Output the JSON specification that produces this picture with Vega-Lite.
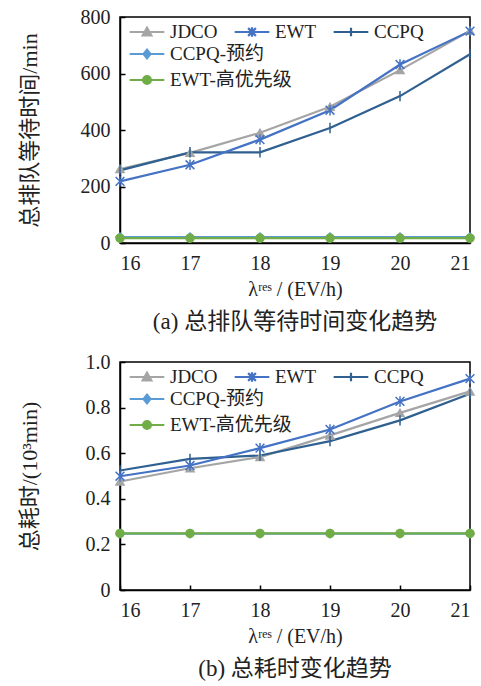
{
  "$schema": "https://vega.github.io/schema/vega-lite/v6.json",
  "padding": {"left": 17, "top": 6, "right": 10, "bottom": 4},
  "spacing": 16,
  "data": {"values": [
    {"p":"a","s":"JDCO","x":16,"v":262},{"p":"a","s":"JDCO","x":17,"v":319},{"p":"a","s":"JDCO","x":18,"v":390},{"p":"a","s":"JDCO","x":19,"v":482},{"p":"a","s":"JDCO","x":20,"v":612},{"p":"a","s":"JDCO","x":21,"v":751},
    {"p":"a","s":"CCPQ-预约","x":16,"v":21},{"p":"a","s":"CCPQ-预约","x":17,"v":21},{"p":"a","s":"CCPQ-预约","x":18,"v":21},{"p":"a","s":"CCPQ-预约","x":19,"v":21},{"p":"a","s":"CCPQ-预约","x":20,"v":21},{"p":"a","s":"CCPQ-预约","x":21,"v":21},
    {"p":"a","s":"CCPQ","x":16,"v":257},{"p":"a","s":"CCPQ","x":17,"v":321},{"p":"a","s":"CCPQ","x":18,"v":321},{"p":"a","s":"CCPQ","x":19,"v":407},{"p":"a","s":"CCPQ","x":20,"v":520},{"p":"a","s":"CCPQ","x":21,"v":668},
    {"p":"a","s":"EWT","x":16,"v":218},{"p":"a","s":"EWT","x":17,"v":277},{"p":"a","s":"EWT","x":18,"v":366},{"p":"a","s":"EWT","x":19,"v":470},{"p":"a","s":"EWT","x":20,"v":632},{"p":"a","s":"EWT","x":21,"v":750},
    {"p":"a","s":"EWT-高优先级","x":16,"v":17},{"p":"a","s":"EWT-高优先级","x":17,"v":17},{"p":"a","s":"EWT-高优先级","x":18,"v":17},{"p":"a","s":"EWT-高优先级","x":19,"v":17},{"p":"a","s":"EWT-高优先级","x":20,"v":17},{"p":"a","s":"EWT-高优先级","x":21,"v":17},
    {"p":"b","s":"JDCO","x":16,"v":0.476},{"p":"b","s":"JDCO","x":17,"v":0.534},{"p":"b","s":"JDCO","x":18,"v":0.583},{"p":"b","s":"JDCO","x":19,"v":0.678},{"p":"b","s":"JDCO","x":20,"v":0.777},{"p":"b","s":"JDCO","x":21,"v":0.871},
    {"p":"b","s":"CCPQ-预约","x":16,"v":0.247},{"p":"b","s":"CCPQ-预约","x":17,"v":0.247},{"p":"b","s":"CCPQ-预约","x":18,"v":0.247},{"p":"b","s":"CCPQ-预约","x":19,"v":0.247},{"p":"b","s":"CCPQ-预约","x":20,"v":0.247},{"p":"b","s":"CCPQ-预约","x":21,"v":0.247},
    {"p":"b","s":"CCPQ","x":16,"v":0.524},{"p":"b","s":"CCPQ","x":17,"v":0.575},{"p":"b","s":"CCPQ","x":18,"v":0.590},{"p":"b","s":"CCPQ","x":19,"v":0.653},{"p":"b","s":"CCPQ","x":20,"v":0.744},{"p":"b","s":"CCPQ","x":21,"v":0.861},
    {"p":"b","s":"EWT","x":16,"v":0.499},{"p":"b","s":"EWT","x":17,"v":0.546},{"p":"b","s":"EWT","x":18,"v":0.622},{"p":"b","s":"EWT","x":19,"v":0.704},{"p":"b","s":"EWT","x":20,"v":0.827},{"p":"b","s":"EWT","x":21,"v":0.927},
    {"p":"b","s":"EWT-高优先级","x":16,"v":0.248},{"p":"b","s":"EWT-高优先级","x":17,"v":0.248},{"p":"b","s":"EWT-高优先级","x":18,"v":0.248},{"p":"b","s":"EWT-高优先级","x":19,"v":0.248},{"p":"b","s":"EWT-高优先级","x":20,"v":0.248},{"p":"b","s":"EWT-高优先级","x":21,"v":0.248}
  ]},
  "vconcat": [
    {
      "width": 350, "height": 226,
      "transform": [{"filter": "datum.p === 'a'"}],
      "title": {"text": "(a)  总排队等待时间变化趋势", "orient": "bottom", "font": "Liberation Serif, Noto Sans CJK SC", "fontSize": 23, "fontWeight": "normal", "color": "#222", "offset": 12},
      "encoding": {
        "x": {"field": "x", "type": "quantitative", "scale": {"domain": [16, 21], "nice": false, "zero": false},
              "axis": {"values": [16,17,18,19,20,21], "format": "d", "title": "λʳᵉˢ / (EV/h)"}},
        "y": {"field": "v", "type": "quantitative", "scale": {"domain": [0, 800], "nice": false},
              "axis": {"values": [0,200,400,600,800], "title": "总排队等待时间/min", "titlePadding": 39}}
      },
      "layer": [
        {"mark": {"type": "line", "strokeWidth": 2.2},
         "encoding": {"color": {"field": "s", "type": "nominal", "legend": null,
            "scale": {"domain": ["JDCO","EWT","CCPQ","CCPQ-预约","EWT-高优先级"], "range": ["#A5A5A5","#4472C4","#2F6090","#5B9BD5","#70AD47"]}}}},
        {"mark": {"type": "point", "filled": true, "size": 64, "strokeWidth": 1.5, "opacity": 1},
         "encoding": {
           "color": {"field": "s", "type": "nominal", "legend": null,
            "scale": {"domain": ["JDCO","EWT","CCPQ","CCPQ-预约","EWT-高优先级"], "range": ["#A5A5A5","#4472C4","#2F6090","#5B9BD5","#70AD47"]}},
           "stroke": {"field": "s", "type": "nominal", "legend": null,
            "scale": {"domain": ["JDCO","EWT","CCPQ","CCPQ-预约","EWT-高优先级"], "range": ["#A5A5A5","#4472C4","#2F6090","#5B9BD5","#70AD47"]}},
           "shape": {"field": "s", "type": "nominal", "legend": null,
            "scale": {"domain": ["JDCO","EWT","CCPQ","CCPQ-预约","EWT-高优先级"], "range": ["triangle-up","M-1.1,-1.1L1.1,1.1M-1.1,1.1L1.1,-1.1M0,-1.3V1.3","M0,-1.3V1.3","diamond","circle"]}}
         }},
        {"transform": [{"filter": "indexof(['JDCO','EWT','CCPQ'], datum.s) >= 0"}],
         "mark": {"type": "point", "filled": true, "opacity": 0, "strokeWidth": 2.2},
         "encoding": {
           "color": {"field": "s", "type": "nominal", "title": null,
             "scale": {"domain": ["JDCO","EWT","CCPQ"], "range": ["#A5A5A5","#4472C4","#2F6090"]},
             "legend": {"orient": "none", "legendX": 17, "legendY": 5, "columns": 3, "gridAlign": "none", "title": null, "symbolSize": 300, "symbolStrokeWidth": 2.2, "symbolOpacity": 1, "labelFont": "Liberation Serif, Noto Sans CJK SC", "labelFontSize": 19, "labelColor": "#222", "labelOffset": 13, "columnPadding": 12, "rowPadding": 4}},
           "stroke": {"field": "s", "type": "nominal", "title": null,
             "scale": {"domain": ["JDCO","EWT","CCPQ"], "range": ["#A5A5A5","#4472C4","#2F6090"]},
             "legend": {"orient": "none", "legendX": 17, "legendY": 5, "columns": 3, "gridAlign": "none", "title": null, "symbolSize": 300, "symbolStrokeWidth": 2.2, "symbolOpacity": 1, "labelFont": "Liberation Serif, Noto Sans CJK SC", "labelFontSize": 19, "labelColor": "#222", "labelOffset": 13, "columnPadding": 12, "rowPadding": 4}},
           "shape": {"field": "s", "type": "nominal", "title": null,
             "scale": {"domain": ["JDCO","EWT","CCPQ"], "range": ["M-2,0H2M0,-0.5L0.5,0.4H-0.5Z","M-2,0H2M-0.45,-0.45L0.45,0.45M-0.45,0.45L0.45,-0.45M0,-0.55V0.55","M-2,0H2M0,-0.5V0.5"]},
             "legend": {"orient": "none", "legendX": 17, "legendY": 5, "columns": 3, "gridAlign": "none", "title": null, "symbolSize": 300, "symbolStrokeWidth": 2.2, "symbolOpacity": 1, "labelFont": "Liberation Serif, Noto Sans CJK SC", "labelFontSize": 19, "labelColor": "#222", "labelOffset": 13, "columnPadding": 12, "rowPadding": 4}}
         }},
        {"transform": [{"filter": "indexof(['CCPQ-预约','EWT-高优先级'], datum.s) >= 0"}],
         "mark": {"type": "point", "filled": true, "opacity": 0, "strokeWidth": 2.2},
         "encoding": {
           "color": {"field": "s", "type": "nominal", "title": null,
             "scale": {"domain": ["CCPQ-预约","EWT-高优先级"], "range": ["#5B9BD5","#70AD47"]},
             "legend": {"orient": "none", "legendX": 17, "legendY": 27, "columns": 1, "title": null, "symbolSize": 300, "symbolStrokeWidth": 2.2, "symbolOpacity": 1, "labelFont": "Liberation Serif, Noto Sans CJK SC", "labelFontSize": 19, "labelColor": "#222", "labelOffset": 13, "rowPadding": 6}},
           "stroke": {"field": "s", "type": "nominal", "title": null,
             "scale": {"domain": ["CCPQ-预约","EWT-高优先级"], "range": ["#5B9BD5","#70AD47"]},
             "legend": {"orient": "none", "legendX": 17, "legendY": 27, "columns": 1, "title": null, "symbolSize": 300, "symbolStrokeWidth": 2.2, "symbolOpacity": 1, "labelFont": "Liberation Serif, Noto Sans CJK SC", "labelFontSize": 19, "labelColor": "#222", "labelOffset": 13, "rowPadding": 6}},
           "shape": {"field": "s", "type": "nominal", "title": null,
             "scale": {"domain": ["CCPQ-预约","EWT-高优先级"], "range": ["M-2,0H2M0,-0.5L0.4,0L0,0.5L-0.4,0Z","M-2,0H2M0.45,0A0.45,0.45 0 1 1 -0.45,0A0.45,0.45 0 1 1 0.45,0Z"]},
             "legend": {"orient": "none", "legendX": 17, "legendY": 27, "columns": 1, "title": null, "symbolSize": 300, "symbolStrokeWidth": 2.2, "symbolOpacity": 1, "labelFont": "Liberation Serif, Noto Sans CJK SC", "labelFontSize": 19, "labelColor": "#222", "labelOffset": 13, "rowPadding": 6}}
         }}
      ],
      "resolve": {"scale": {"color": "independent", "stroke": "independent", "shape": "independent"}}
    },
    {
      "width": 350, "height": 228,
      "transform": [{"filter": "datum.p === 'b'"}],
      "title": {"text": "(b)  总耗时变化趋势", "orient": "bottom", "font": "Liberation Serif, Noto Sans CJK SC", "fontSize": 23, "fontWeight": "normal", "color": "#222", "offset": 12},
      "encoding": {
        "x": {"field": "x", "type": "quantitative", "scale": {"domain": [16, 21], "nice": false, "zero": false},
              "axis": {"values": [16,17,18,19,20,21], "format": "d", "title": "λʳᵉˢ / (EV/h)"}},
        "y": {"field": "v", "type": "quantitative", "scale": {"domain": [0, 1], "nice": false},
              "axis": {"values": [0,0.2,0.4,0.6,0.8,1], "labelExpr": "datum.value == 0 ? '0' : format(datum.value, '.1f')", "title": "总耗时/(10³min)", "titlePadding": 44}}
      },
      "layer": [
        {"mark": {"type": "line", "strokeWidth": 2.2},
         "encoding": {"color": {"field": "s", "type": "nominal", "legend": null,
            "scale": {"domain": ["JDCO","EWT","CCPQ","CCPQ-预约","EWT-高优先级"], "range": ["#A5A5A5","#4472C4","#2F6090","#5B9BD5","#70AD47"]}}}},
        {"mark": {"type": "point", "filled": true, "size": 64, "strokeWidth": 1.5, "opacity": 1},
         "encoding": {
           "color": {"field": "s", "type": "nominal", "legend": null,
            "scale": {"domain": ["JDCO","EWT","CCPQ","CCPQ-预约","EWT-高优先级"], "range": ["#A5A5A5","#4472C4","#2F6090","#5B9BD5","#70AD47"]}},
           "stroke": {"field": "s", "type": "nominal", "legend": null,
            "scale": {"domain": ["JDCO","EWT","CCPQ","CCPQ-预约","EWT-高优先级"], "range": ["#A5A5A5","#4472C4","#2F6090","#5B9BD5","#70AD47"]}},
           "shape": {"field": "s", "type": "nominal", "legend": null,
            "scale": {"domain": ["JDCO","EWT","CCPQ","CCPQ-预约","EWT-高优先级"], "range": ["triangle-up","M-1.1,-1.1L1.1,1.1M-1.1,1.1L1.1,-1.1M0,-1.3V1.3","M0,-1.3V1.3","diamond","circle"]}}
         }},
        {"transform": [{"filter": "indexof(['JDCO','EWT','CCPQ'], datum.s) >= 0"}],
         "mark": {"type": "point", "filled": true, "opacity": 0, "strokeWidth": 2.2},
         "encoding": {
           "color": {"field": "s", "type": "nominal", "title": null,
             "scale": {"domain": ["JDCO","EWT","CCPQ"], "range": ["#A5A5A5","#4472C4","#2F6090"]},
             "legend": {"orient": "none", "legendX": 17, "legendY": 5, "columns": 3, "gridAlign": "none", "title": null, "symbolSize": 300, "symbolStrokeWidth": 2.2, "symbolOpacity": 1, "labelFont": "Liberation Serif, Noto Sans CJK SC", "labelFontSize": 19, "labelColor": "#222", "labelOffset": 13, "columnPadding": 12, "rowPadding": 4}},
           "stroke": {"field": "s", "type": "nominal", "title": null,
             "scale": {"domain": ["JDCO","EWT","CCPQ"], "range": ["#A5A5A5","#4472C4","#2F6090"]},
             "legend": {"orient": "none", "legendX": 17, "legendY": 5, "columns": 3, "gridAlign": "none", "title": null, "symbolSize": 300, "symbolStrokeWidth": 2.2, "symbolOpacity": 1, "labelFont": "Liberation Serif, Noto Sans CJK SC", "labelFontSize": 19, "labelColor": "#222", "labelOffset": 13, "columnPadding": 12, "rowPadding": 4}},
           "shape": {"field": "s", "type": "nominal", "title": null,
             "scale": {"domain": ["JDCO","EWT","CCPQ"], "range": ["M-2,0H2M0,-0.5L0.5,0.4H-0.5Z","M-2,0H2M-0.45,-0.45L0.45,0.45M-0.45,0.45L0.45,-0.45M0,-0.55V0.55","M-2,0H2M0,-0.5V0.5"]},
             "legend": {"orient": "none", "legendX": 17, "legendY": 5, "columns": 3, "gridAlign": "none", "title": null, "symbolSize": 300, "symbolStrokeWidth": 2.2, "symbolOpacity": 1, "labelFont": "Liberation Serif, Noto Sans CJK SC", "labelFontSize": 19, "labelColor": "#222", "labelOffset": 13, "columnPadding": 12, "rowPadding": 4}}
         }},
        {"transform": [{"filter": "indexof(['CCPQ-预约','EWT-高优先级'], datum.s) >= 0"}],
         "mark": {"type": "point", "filled": true, "opacity": 0, "strokeWidth": 2.2},
         "encoding": {
           "color": {"field": "s", "type": "nominal", "title": null,
             "scale": {"domain": ["CCPQ-预约","EWT-高优先级"], "range": ["#5B9BD5","#70AD47"]},
             "legend": {"orient": "none", "legendX": 17, "legendY": 27, "columns": 1, "title": null, "symbolSize": 300, "symbolStrokeWidth": 2.2, "symbolOpacity": 1, "labelFont": "Liberation Serif, Noto Sans CJK SC", "labelFontSize": 19, "labelColor": "#222", "labelOffset": 13, "rowPadding": 6}},
           "stroke": {"field": "s", "type": "nominal", "title": null,
             "scale": {"domain": ["CCPQ-预约","EWT-高优先级"], "range": ["#5B9BD5","#70AD47"]},
             "legend": {"orient": "none", "legendX": 17, "legendY": 27, "columns": 1, "title": null, "symbolSize": 300, "symbolStrokeWidth": 2.2, "symbolOpacity": 1, "labelFont": "Liberation Serif, Noto Sans CJK SC", "labelFontSize": 19, "labelColor": "#222", "labelOffset": 13, "rowPadding": 6}},
           "shape": {"field": "s", "type": "nominal", "title": null,
             "scale": {"domain": ["CCPQ-预约","EWT-高优先级"], "range": ["M-2,0H2M0,-0.5L0.4,0L0,0.5L-0.4,0Z","M-2,0H2M0.45,0A0.45,0.45 0 1 1 -0.45,0A0.45,0.45 0 1 1 0.45,0Z"]},
             "legend": {"orient": "none", "legendX": 17, "legendY": 27, "columns": 1, "title": null, "symbolSize": 300, "symbolStrokeWidth": 2.2, "symbolOpacity": 1, "labelFont": "Liberation Serif, Noto Sans CJK SC", "labelFontSize": 19, "labelColor": "#222", "labelOffset": 13, "rowPadding": 6}}
         }}
      ],
      "resolve": {"scale": {"color": "independent", "stroke": "independent", "shape": "independent"}}
    }
  ],
  "config": {
    "view": {"stroke": "black", "strokeWidth": 1.5},
    "axis": {"grid": false, "domainColor": "black", "domainWidth": 1.5, "tickColor": "black", "tickWidth": 1.5, "tickSize": -5,
             "labelFont": "Liberation Serif", "labelFontSize": 20, "labelColor": "#222", "labelPadding": 15,
             "titleFont": "Liberation Serif, Noto Sans CJK SC", "titleFontSize": 20, "titleFontWeight": "normal", "titleColor": "#222"},
    "axisX": {"titlePadding": 6},
    "axisY": {"titleFontSize": 22}
  }
}
